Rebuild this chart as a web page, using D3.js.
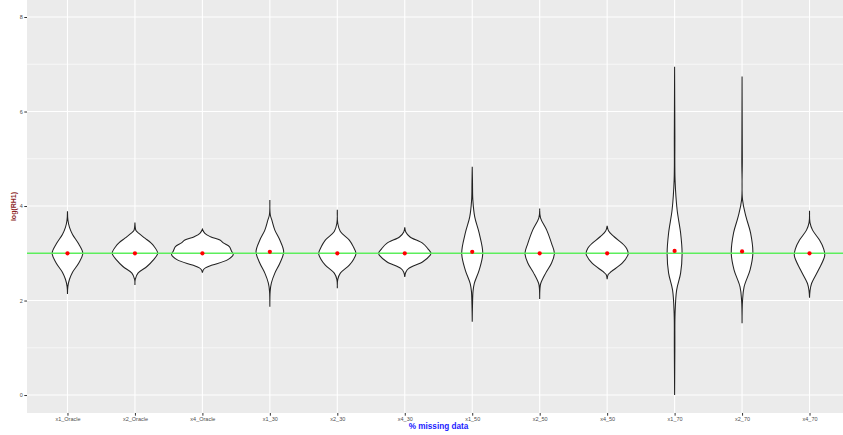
<!DOCTYPE html>
<html>
<head>
<meta charset="utf-8">
<script src="https://cdn.jsdelivr.net/npm/d3@7"></script>
<style>
  body { margin: 0; background: #fff; }
  svg { display: block; font-family: "Liberation Sans", Arial, sans-serif; }
</style>
</head>
<body>
<svg id="chart" width="843" height="435"></svg>
<script>
// categories on the x axis
const categories = ["x1_Oracle", "x2_Oracle", "x4_Oracle", "x1_30", "x2_30", "x4_30",
                    "x1_50", "x2_50", "x4_50", "x1_70", "x2_70", "x4_70"];

// mean of each group (red dots)
const means = [3.0, 3.0, 3.0, 3.03, 3.0, 3.0, 3.03, 3.0, 3.0, 3.05, 3.04, 3.0];

// reference line value
const refValue = 3;

// y axis ticks
const yTicks = [0, 2, 4, 6, 8];
const yMinor = [1, 3, 5, 7];
const yDomain = [-0.38, 8.36];

// violin outlines: [log(RH1) value, half width as share of the category step]
const violins = [
  [[2.14,0],[2.3,0.006],[2.45,0.03],[2.6,0.075],[2.8,0.17],[3.0,0.227],[3.2,0.165],[3.4,0.075],[3.55,0.03],[3.7,0.007],[3.89,0]],
  [[2.33,0],[2.45,0.005],[2.58,0.045],[2.72,0.178],[2.85,0.267],[3.0,0.337],[3.15,0.282],[3.22,0.237],[3.32,0.148],[3.42,0.059],[3.48,0.015],[3.55,0.005],[3.65,0]],
  [[2.59,0],[2.65,0.015],[2.69,0.045],[2.75,0.148],[2.86,0.371],[2.97,0.457],[3.05,0.43],[3.14,0.4],[3.22,0.31],[3.28,0.26],[3.35,0.12],[3.42,0.037],[3.51,0]],
  [[1.87,0],[2.2,0.005],[2.37,0.022],[2.58,0.074],[2.79,0.148],[3.03,0.205],[3.28,0.148],[3.49,0.074],[3.7,0.03],[3.81,0.007],[4.13,0]],
  [[2.26,0],[2.45,0.007],[2.58,0.045],[2.75,0.178],[2.88,0.245],[3.0,0.277],[3.14,0.237],[3.28,0.178],[3.46,0.045],[3.63,0.007],[3.92,0]],
  [[2.5,0],[2.6,0.015],[2.68,0.059],[2.82,0.267],[2.95,0.371],[3.0,0.389],[3.1,0.341],[3.21,0.267],[3.35,0.074],[3.45,0.015],[3.55,0]],
  [[1.55,0],[1.9,0.004],[2.2,0.012],[2.36,0.03],[2.65,0.104],[3.0,0.156],[3.42,0.104],[3.77,0.037],[4.13,0.009],[4.5,0.004],[4.83,0]],
  [[2.03,0],[2.25,0.004],[2.36,0.015],[2.58,0.089],[2.8,0.178],[3.0,0.218],[3.2,0.178],[3.49,0.104],[3.75,0.012],[3.95,0]],
  [[2.45,0],[2.55,0.015],[2.61,0.059],[2.79,0.223],[2.95,0.304],[3.0,0.312],[3.1,0.289],[3.17,0.252],[3.35,0.104],[3.47,0.022],[3.58,0]],
  [[0.0,0],[1.0,0.004],[1.73,0.007],[2.22,0.03],[2.58,0.089],[3.0,0.111],[3.43,0.089],[3.92,0.037],[4.55,0.007],[5.5,0.004],[6.95,0]],
  [[1.52,0],[2.0,0.007],[2.29,0.03],[2.65,0.119],[3.0,0.16],[3.43,0.126],[3.77,0.059],[4.13,0.007],[5.0,0.004],[6.74,0]],
  [[2.06,0],[2.2,0.007],[2.36,0.03],[2.65,0.134],[2.95,0.225],[3.1,0.208],[3.28,0.148],[3.49,0.045],[3.65,0.007],[3.9,0]]
];

const svg = d3.select("#chart");
const margin = {top: 0, right: -7, bottom: 22, left: 27};
const width = 843, height = 435;
const panel = {x0: margin.left, x1: width - margin.right, y0: margin.top, y1: height - margin.bottom};

// scales
const x = d3.scalePoint().domain(categories).range([panel.x0, panel.x1]).padding(0.6);
const y = d3.scaleLinear().domain(yDomain).range([panel.y1, panel.y0]);
const step = x.step();

// panel background
svg.append("rect")
  .attr("x", panel.x0).attr("y", panel.y0)
  .attr("width", panel.x1 - panel.x0).attr("height", panel.y1 - panel.y0)
  .attr("fill", "#EBEBEB");

// grid
const grid = svg.append("g");
grid.selectAll(".minor").data(yMinor).enter().append("line")
  .attr("x1", panel.x0).attr("x2", panel.x1)
  .attr("y1", d => y(d)).attr("y2", d => y(d))
  .attr("stroke", "#fff").attr("stroke-width", 0.6);
grid.selectAll(".major").data(yTicks).enter().append("line")
  .attr("x1", panel.x0).attr("x2", panel.x1)
  .attr("y1", d => y(d)).attr("y2", d => y(d))
  .attr("stroke", "#fff").attr("stroke-width", 1.1);
grid.selectAll(".vmajor").data(categories).enter().append("line")
  .attr("x1", d => x(d)).attr("x2", d => x(d))
  .attr("y1", panel.y0).attr("y2", panel.y1)
  .attr("stroke", "#fff").attr("stroke-width", 1.1);

// violins
const area = d3.area()
  .curve(d3.curveCatmullRom)
  .y(p => y(p[0]));

svg.append("g").selectAll("path")
  .data(violins)
  .enter().append("path")
  .attr("d", (v, i) => {
    const cx = x(categories[i]);
    return area.x0(p => cx - p[1] * step).x1(p => cx + p[1] * step)(v);
  })
  .attr("fill", "#fff")
  .attr("stroke", "#222")
  .attr("stroke-width", 1.05);

// reference line
svg.append("line")
  .attr("x1", panel.x0).attr("x2", panel.x1)
  .attr("y1", y(refValue)).attr("y2", y(refValue))
  .attr("stroke", "#5CEE5C").attr("stroke-width", 1.6);

// means
svg.append("g").selectAll("circle")
  .data(means)
  .enter().append("circle")
  .attr("cx", (d, i) => x(categories[i]))
  .attr("cy", d => y(d))
  .attr("r", 2.1)
  .attr("fill", "#FF0000");

// y axis
const axisY = svg.append("g")
  .attr("transform", `translate(${panel.x0},0)`)
  .call(d3.axisLeft(y).tickValues(yTicks).tickSize(2.7).tickPadding(1.5));
axisY.select(".domain").remove();
axisY.selectAll("line").attr("stroke", "#333");
axisY.selectAll("text").attr("fill", "#4D4D4D").style("font-size", "5.5px");

// x axis
const axisX = svg.append("g")
  .attr("transform", `translate(0,${panel.y1})`)
  .call(d3.axisBottom(x).tickSize(2.7).tickPadding(1.5));
axisX.select(".domain").remove();
axisX.selectAll("line").attr("stroke", "#333");
axisX.selectAll("text").attr("fill", "#4D4D4D").style("font-size", "5.5px");

// axis titles
svg.append("text")
  .attr("x", (panel.x0 + panel.x1) / 2)
  .attr("y", 429)
  .attr("text-anchor", "middle")
  .attr("fill", "#1a1aff")
  .style("font-size", "8.2px")
  .style("font-weight", "bold")
  .text("% missing data");

svg.append("text")
  .attr("transform", `translate(16,${(panel.y0 + panel.y1) / 2}) rotate(-90)`)
  .attr("text-anchor", "middle")
  .attr("fill", "#8B2323")
  .style("font-size", "7px")
  .style("font-weight", "bold")
  .text("log(RH1)");
</script>
</body>
</html>
